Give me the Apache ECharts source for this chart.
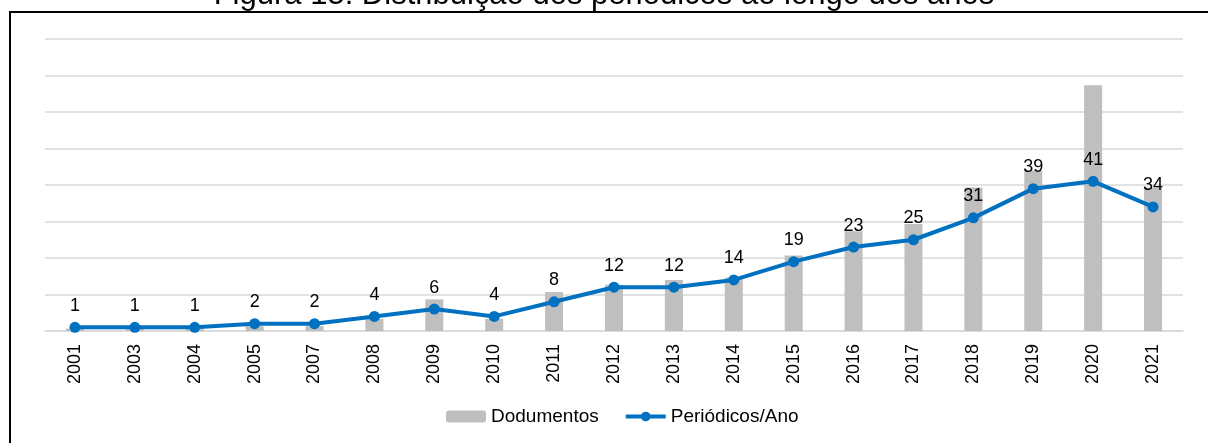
<!doctype html>
<html>
<head>
<meta charset="utf-8">
<title>Distribuição dos periódicos</title>
<style>
	html,body{height:100%;padding:0;margin:0;background:#fff;}
</style>
</head>
<body>
<div style="width:1208px;height:443px;" id="chart"></div>
<script src="https://cdn.jsdelivr.net/npm/echarts@6/dist/echarts.min.js"></script>
<script>
var anos = ['2001','2003','2004','2005','2007','2008','2009','2010','2011','2012','2013','2014','2015','2016','2017','2018','2019','2020','2021'];
var documentos = [1, 1, 1, 2, 2, 5, 13, 5, 16, 19, 21, 22, 31, 41, 44, 59, 66, 101, 59];
var periodicosAno = [1, 1, 1, 2, 2, 4, 6, 4, 8, 12, 12, 14, 19, 23, 25, 31, 39, 41, 34];

var fonte = '"Liberation Sans", Arial, sans-serif';
var chart = echarts.init(document.getElementById('chart'));
var option = {
	animation: false,
	textStyle: {fontFamily: fonte},
	title: {
		text: 'Figura 15: Distribuição dos periódicos ao longo dos anos',
		left: 'center',
		top: -20,
		padding: 0,
		textStyle: {fontFamily: fonte, fontSize: 31, fontWeight: 'normal', color: '#000'}
	},
	graphic: [{
		type: 'rect',
		shape: {x: 10, y: 12, width: 1220, height: 440},
		style: {fill: 'none', stroke: '#000', lineWidth: 2},
		silent: true
	}],
	legend: {
		top: 402,
		left: 441,
		itemWidth: 40,
		itemHeight: 12,
		itemGap: 25,
		textStyle: {fontFamily: fonte, fontSize: 19, color: '#000'},
		lineStyle: {width: 4},
		data: ['Dodumentos', 'Periódicos/Ano']
	},
	grid: {left: 45, right: 25, top: 39, bottom: 112},
	xAxis: {
		type: 'category',
		data: anos,
		axisTick: {show: false},
		axisLine: {lineStyle: {color: '#D9D9D9', width: 1.5}},
		axisLabel: {rotate: 90, fontSize: 18, color: '#000', margin: 13, fontFamily: fonte}
	},
	yAxis: [{
		type: 'value',
		min: 0, max: 80, interval: 10,
		axisLabel: {show: false},
		axisLine: {show: false},
		axisTick: {show: false},
		splitLine: {lineStyle: {color: '#D9D9D9', width: 1.5}}
	}, {
		type: 'value',
		min: 0, max: 120, interval: 15,
		show: false,
		splitLine: {show: false}
	}],
	series: [{
		name: 'Dodumentos',
		type: 'bar',
		yAxisIndex: 1,
		barWidth: 18,
		itemStyle: {color: '#BFBFBF'},
		data: documentos
	}, {
		name: 'Periódicos/Ano',
		type: 'line',
		yAxisIndex: 0,
		symbol: 'circle',
		symbolSize: 11,
		lineStyle: {color: '#0070C0', width: 4},
		itemStyle: {color: '#0070C0'},
		label: {show: true, position: 'top', distance: 7, fontSize: 18, color: '#000', fontFamily: fonte},
		data: periodicosAno
	}]
};
chart.setOption(option);
</script>
</body>
</html>
